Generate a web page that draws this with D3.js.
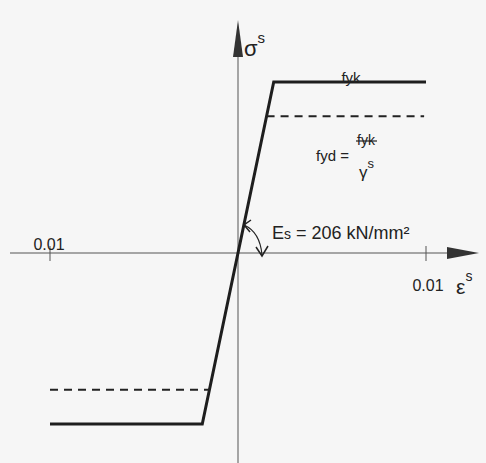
<!DOCTYPE html>
<html>
<head>
<meta charset="utf-8">
<script src="https://cdn.jsdelivr.net/npm/d3@7"></script>
<style>
  html, body { margin: 0; padding: 0; background: #f6f6f6; }
  svg { display: block; }
  text { font-family: "Liberation Sans", Arial, sans-serif; fill: #222; }
</style>
</head>
<body>
<div id="chart"></div>
<script>
// Spannungs-Dehnungs-Linie Betonstahl (bilinear)
const strain = [-0.01, -0.0019, 0.0019, 0.01];
const stress = [-400, -400, 400, 400];
// Bemessungswert fyd (gestrichelt)
const fydStrainTop = [0.00152, 0.0099];
const fydStrainBottom = [-0.01, -0.00152];
const fydStress = 320;
const tickValues = [-0.01, 0.01];
const tickLabels = ['0.01', '0.01'];

const width = 486, height = 463;

const svg = d3.select('#chart').append('svg')
  .attr('width', width)
  .attr('height', height);

const x = d3.scaleLinear().domain([-0.01, 0.01]).range([50, 426]);
const y = d3.scaleLinear().domain([-400, 400]).range([424, 82]);

const x0 = x(0), y0 = y(0);
const axisColor = '#555';

// Achsen
svg.append('line')
  .attr('x1', 10).attr('x2', 450)
  .attr('y1', y0).attr('y2', y0)
  .attr('stroke', axisColor).attr('stroke-width', 1);
svg.append('path')
  .attr('d', `M447,${y0 - 6}L479,${y0}L447,${y0 + 6}Z`)
  .attr('fill', '#333');

svg.append('line')
  .attr('x1', x0).attr('x2', x0)
  .attr('y1', 55).attr('y2', height)
  .attr('stroke', axisColor).attr('stroke-width', 1);
svg.append('path')
  .attr('d', `M${x0 - 5},57L${x0},20L${x0 + 5},57Z`)
  .attr('fill', '#333');

// Teilstriche
svg.selectAll('.tick')
  .data(tickValues)
  .enter().append('line')
  .attr('class', 'tick')
  .attr('x1', d => x(d)).attr('x2', d => x(d))
  .attr('y1', y0 - 7).attr('y2', y0 + 8)
  .attr('stroke', axisColor).attr('stroke-width', 1);

svg.append('text')
  .attr('x', x(tickValues[0]) - 1).attr('y', y0 - 3)
  .attr('text-anchor', 'middle')
  .style('font-size', '16px')
  .text(tickLabels[0]);
svg.append('text')
  .attr('x', x(tickValues[1]) + 2).attr('y', y0 + 38)
  .attr('text-anchor', 'middle')
  .style('font-size', '16px')
  .text(tickLabels[1]);

// Achsenbeschriftungen
const eps = svg.append('text').attr('x', 456).attr('y', 294).style('font-size', '21px');
eps.append('tspan').text('ε');
eps.append('tspan').attr('dy', -13).style('font-size', '14px').text('s');

const sig = svg.append('text').attr('x', 244).attr('y', 56).style('font-size', '22px');
sig.append('tspan').text('σ');
sig.append('tspan').attr('dy', -13).style('font-size', '15px').text('s');

// Kennlinie
const line = d3.line().x(d => x(d[0])).y(d => y(d[1]));
svg.append('path')
  .datum(d3.zip(strain, stress))
  .attr('d', line)
  .attr('fill', 'none')
  .attr('stroke', '#1e1e1e')
  .attr('stroke-width', 3)
  .attr('stroke-linejoin', 'miter');

// fyd gestrichelt
[[fydStrainTop, fydStress], [fydStrainBottom, -fydStress]].forEach(([xs, s]) => {
  svg.append('line')
    .attr('x1', x(xs[0])).attr('x2', x(xs[1]))
    .attr('y1', y(s)).attr('y2', y(s))
    .attr('stroke', '#222')
    .attr('stroke-width', 2)
    .attr('stroke-dasharray', '8,6');
});

// fyk Beschriftung
svg.append('text')
  .attr('x', 351).attr('y', y(400) + 1)
  .attr('text-anchor', 'middle')
  .style('font-size', '15px')
  .text('fyk');

// fyd = fyk / γs
svg.append('text')
  .attr('x', 316).attr('y', 161)
  .style('font-size', '15px')
  .text('fyd =');
svg.append('text')
  .attr('x', 366).attr('y', 145)
  .attr('text-anchor', 'middle')
  .style('font-size', '14px')
  .text('fyk');
svg.append('line')
  .attr('x1', 356).attr('x2', 377)
  .attr('y1', 141).attr('y2', 141)
  .attr('stroke', '#222').attr('stroke-width', 1.2);
const gam = svg.append('text').attr('x', 359).attr('y', 178).style('font-size', '17px');
gam.append('tspan').text('γ');
gam.append('tspan').attr('dy', -10).style('font-size', '13px').text('s');

// Es Beschriftung
const es = svg.append('text').attr('x', 272).attr('y', 239).style('font-size', '18px');
es.append('tspan').text('E');
es.append('tspan').style('font-size', '14px').text('s');
es.append('tspan').text(' = 206 kN/mm²');

// Bogenpfeil
svg.append('path')
  .attr('d', 'M244,225 Q260,232 262,255')
  .attr('fill', 'none').attr('stroke', '#222').attr('stroke-width', 1.2);
svg.append('path')
  .attr('d', 'M251,220 L244,225 L250,232')
  .attr('fill', 'none').attr('stroke', '#222').attr('stroke-width', 1.5);
svg.append('path')
  .attr('d', 'M256,247 L262,256 L268,246')
  .attr('fill', 'none').attr('stroke', '#222').attr('stroke-width', 1.5);
</script>
</body>
</html>
